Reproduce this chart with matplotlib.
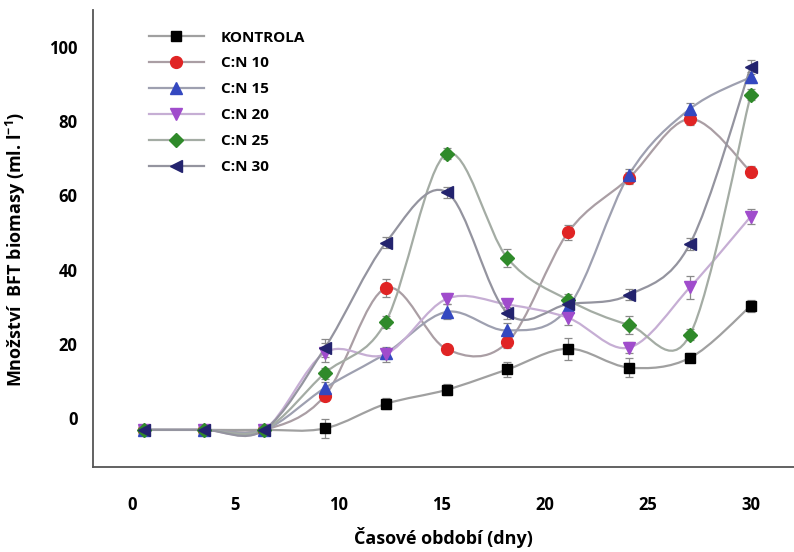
import numpy as np
import matplotlib
matplotlib.use("Agg")
import matplotlib.pyplot as plt
from matplotlib.path import Path
from matplotlib.patches import PathPatch
from matplotlib.lines import Line2D

plt.rcParams['font.family'] = ['Open Sans', 'DejaVu Sans']
plt.rcParams['mathtext.fontset'] = 'custom'
plt.rcParams['mathtext.bf'] = 'Open Sans:bold'
plt.rcParams['mathtext.rm'] = 'Open Sans:bold'

# sampling days
days = [0.6, 3.5, 6.4, 9.35, 12.3, 15.25, 18.2, 21.15, 24.1, 27.05, 30.0]

kontrola = [-3.2, -3.2, -3.2, -2.8, 3.8, 7.6, 13.1, 18.7, 13.6, 16.2, 30.2]
cn10 = [-3.2, -3.2, -3.2, 6.0, 35.0, 18.6, 20.4, 50.1, 64.7, 80.6, 66.4]
cn15 = [-3.2, -3.2, -3.2, 8.1, 17.4, 28.6, 23.6, 29.8, 65.6, 83.3, 91.9]
cn20 = [-3.2, -3.2, -3.2, 17.6, 17.2, 32.1, 30.6, 27.0, 19.0, 35.2, 54.3]
cn25 = [-3.2, -3.2, -3.2, 12.1, 25.9, 71.2, 43.1, 31.8, 25.1, 22.4, 87.1]
cn30 = [-3.2, -3.2, -3.2, 18.9, 47.2, 60.9, 28.3, 30.7, 33.2, 46.9, 94.6]

err_k = [0, 0, 0, 2.5, 1.5, 1.5, 2.0, 3.0, 2.5, 1.2, 1.5]
err_10 = [0, 0, 0, 1.5, 2.5, 1.2, 1.5, 2.0, 1.5, 1.5, 1.5]
err_15 = [0, 0, 0, 1.5, 1.5, 2.0, 2.0, 1.5, 1.5, 1.5, 1.5]
err_20 = [0, 0, 0, 2.5, 2.0, 1.5, 1.5, 2.0, 1.5, 3.0, 2.0]
err_25 = [0, 0, 0, 1.5, 1.5, 1.5, 2.5, 1.5, 2.5, 1.5, 1.5]
err_30 = [0, 0, 0, 2.5, 1.5, 1.5, 1.5, 1.5, 1.5, 1.5, 2.0]

labels = ["KONTROLA", "C:N 10", "C:N 15", "C:N 20", "C:N 25", "C:N 30"]
series = [kontrola, cn10, cn15, cn20, cn25, cn30]
errors = [err_k, err_10, err_15, err_20, err_25, err_30]
markers = ["s", "o", "^", "v", "D", "<"]
mcolors = ["#000000", "#e02424", "#3448c0", "#a04ccc", "#2f8a2a", "#23236e"]
lcolors = ["#a0a0a0", "#aa9ea4", "#9ea0b0", "#c6aed4", "#a4aca4", "#94949f"]
msizes = [7.5, 8.5, 8.5, 8.5, 7.5, 8.5]


def smooth_path(xs, ys, t=1.0 / 6.0):
    """Cubic Bezier path through the points (Catmull-Rom style smoothing)."""
    pts = np.column_stack([xs, ys]).astype(float)
    n = len(pts)
    verts = [pts[0]]
    codes = [Path.MOVETO]
    for i in range(n - 1):
        p0 = pts[i - 1] if i > 0 else pts[i]
        p1 = pts[i]
        p2 = pts[i + 1]
        p3 = pts[i + 2] if i + 2 < n else pts[i + 1]
        c1 = p1 + (p2 - p0) * t
        c2 = p2 - (p3 - p1) * t
        verts += [c1, c2, p2]
        codes += [Path.CURVE4] * 3
    return Path(verts, codes)


fig = plt.figure(figsize=(7.94, 5.52), dpi=100)
ax = fig.add_axes([0.117, 0.154, 0.883, 0.828])

for ys, err, mk, mc, lc, ms in zip(series, errors, markers, mcolors, lcolors, msizes):
    ax.add_patch(PathPatch(smooth_path(days, ys), facecolor="none",
                           edgecolor=lc, lw=1.6, zorder=2))
    ax.errorbar(days, ys, yerr=err, fmt="none", ecolor="#8a8a8a",
                elinewidth=0.9, capsize=3, capthick=0.9, zorder=3)
    ax.plot(days, ys, linestyle="none", marker=mk, color=mc,
            markersize=ms, markeredgecolor=mc, zorder=4)

ax.set_xlim(-1.9, 32.1)
ax.set_ylim(-13.2, 110)
ax.set_xticks([0, 5, 10, 15, 20, 25, 30])
ax.set_yticks([0, 20, 40, 60, 80, 100])
ax.tick_params(length=0, labelsize=12)
ax.tick_params(axis="x", pad=21)
ax.tick_params(axis="y", pad=11)
for lab in ax.get_xticklabels() + ax.get_yticklabels():
    lab.set_fontweight("bold")

for side in ["top", "right"]:
    ax.spines[side].set_visible(False)
for side in ["left", "bottom"]:
    ax.spines[side].set_color("#555555")
    ax.spines[side].set_linewidth(1.3)

ax.set_xlabel("Časové období (dny)", fontsize=13, fontweight="bold", labelpad=9)
ax.set_ylabel("Množství  BFT biomasy (ml. l$^{\\mathbf{-1}}$)", fontsize=13,
              fontweight="bold")
ax.yaxis.set_label_coords(-0.092, 0.475)

handles = [Line2D([], [], color=lc, lw=1.6, marker=mk, markersize=ms,
                  markerfacecolor=mc, markeredgecolor=mc)
           for mk, mc, lc, ms in zip(markers, mcolors, lcolors, msizes)]
leg = ax.legend(handles, labels, loc="upper left", bbox_to_anchor=(0.06, 0.985),
                frameon=False, handlelength=3.6, handletextpad=1.1,
                labelspacing=0.78, prop={"weight": "bold", "size": 11})

fig.savefig("out.png", dpi=100)
